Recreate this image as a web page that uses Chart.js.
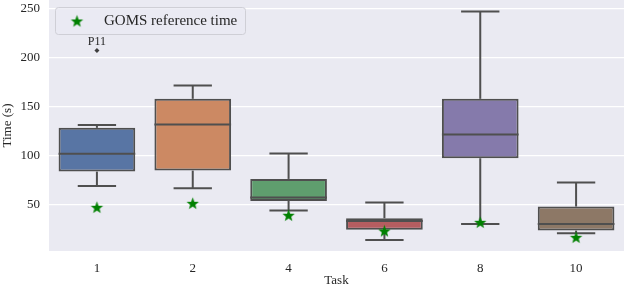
<!DOCTYPE html>
<html>
<head>
<meta charset="utf-8">
<script src="https://cdn.jsdelivr.net/npm/chart.js@4"></script>
<style>
  html, body { margin: 0; padding: 0; background: #fff; }
  #wrap { width: 624px; height: 288px; }
</style>
</head>
<body>
<div id="wrap"><canvas id="chartTime"></canvas></div>
<script>
const tasks = ["1", "2", "4", "6", "8", "10"];
const whiskLow = [69.4, 67, 44.2, 14.3, 30.6, 21.1];
const q1 = [84, 85, 54, 24.8, 97.6, 23.8];
const median = [102.3, 131.9, 57.6, 33.7, 121.8, 30.6];
const q3 = [128.6, 158.2, 76.5, 36.4, 158.2, 48.3];
const whiskHigh = [131.6, 171.7, 102.4, 52.4, 247.3, 72.8];
const goms = [47.6, 51.7, 39.5, 23.5, 32.3, 17];
const outliers = [207.5, null, null, null, null, null];
const outlierLabels = ["P11", null, null, null, null, null];
const yTicks = [50, 100, 150, 200, 250];

const boxColors = ["#5875a4", "#cc8963", "#5f9e6e", "#b55d60", "#857aab", "#8d7866"];
const edge = "#4f4f4f";
const serif = "'Liberation Serif', 'DejaVu Serif', serif";

// filled star used as point style
function makeStar(r, color) {
  const c = document.createElement("canvas");
  const s = Math.ceil(r * 2 + 2);
  c.width = s; c.height = s;
  const g = c.getContext("2d");
  g.fillStyle = color;
  g.beginPath();
  for (let i = 0; i < 10; i++) {
    const rad = i % 2 === 0 ? r : r * 0.42;
    const a = -Math.PI / 2 + i * Math.PI / 5;
    const x = s / 2 + rad * Math.cos(a), y = s / 2 + 0.6 + rad * Math.sin(a);
    i === 0 ? g.moveTo(x, y) : g.lineTo(x, y);
  }
  g.closePath();
  g.fill();
  return c;
}
const star = makeStar(6.5, "#008000");

const boxParts = {
  id: "boxParts",
  afterDatasetDraw(chart, args) {
    if (args.meta.type !== "bar") return;
    const ctx = chart.ctx, y = chart.scales.y;
    ctx.save();
    ctx.strokeStyle = edge;
    ctx.lineWidth = 2;
    args.meta.data.forEach((bar, i) => {
      const cx = bar.x, half = bar.width / 2, cap = bar.width / 4;
      const seg = (x1, y1, x2, y2) => { ctx.beginPath(); ctx.moveTo(x1, y1); ctx.lineTo(x2, y2); ctx.stroke(); };
      seg(cx, y.getPixelForValue(q3[i]), cx, y.getPixelForValue(whiskHigh[i]));
      seg(cx, y.getPixelForValue(q1[i]), cx, y.getPixelForValue(whiskLow[i]));
      seg(cx - cap, y.getPixelForValue(whiskHigh[i]), cx + cap, y.getPixelForValue(whiskHigh[i]));
      seg(cx - cap, y.getPixelForValue(whiskLow[i]), cx + cap, y.getPixelForValue(whiskLow[i]));
      seg(cx - half, y.getPixelForValue(median[i]), cx + half, y.getPixelForValue(median[i]));
    });
    ctx.restore();
  },
  afterDraw(chart) {
    const ctx = chart.ctx, x = chart.scales.x, y = chart.scales.y;
    ctx.save();
    ctx.fillStyle = "#262626";
    ctx.font = "12px " + serif;
    ctx.textAlign = "center";
    ctx.textBaseline = "bottom";
    outlierLabels.forEach((t, i) => {
      if (!t) return;
      ctx.fillText(t, x.getPixelForValue(i), y.getPixelForValue(outliers[i]) - 3);
    });
    // legend box
    const lx = 55.5, ly = 7.5, lw = 190, lh = 27;
    ctx.fillStyle = "rgba(234,234,242,0.8)";
    ctx.strokeStyle = "#cfcfd6";
    ctx.lineWidth = 1;
    ctx.beginPath();
    ctx.roundRect(lx, ly, lw, lh, 3);
    ctx.fill();
    ctx.stroke();
    ctx.drawImage(star, 77 - star.width / 2, 21 - star.height / 2);
    ctx.fillStyle = "#262626";
    ctx.font = "15px " + serif;
    ctx.textAlign = "left";
    ctx.textBaseline = "middle";
    ctx.fillText("GOMS reference time", 104, 21.5);
    ctx.restore();
  }
};

const plotBg = {
  id: "plotBg",
  beforeDraw(chart) {
    const a = chart.chartArea, ctx = chart.ctx;
    ctx.save();
    ctx.fillStyle = "#eaeaf2";
    ctx.fillRect(a.left, a.top, a.right - a.left, a.bottom - a.top);
    ctx.restore();
  }
};

new Chart(document.querySelector("#chartTime"), {
  data: {
    labels: tasks,
    datasets: [
      {
        type: "line",
        label: "GOMS reference time",
        data: goms,
        showLine: false,
        pointStyle: star,
        order: 0,
      },
      {
        type: "line",
        label: "outliers",
        data: outliers,
        showLine: false,
        pointStyle: "rectRot",
        pointRadius: 2.5,
        backgroundColor: "#3f3f3f",
        borderColor: "#3f3f3f",
        borderWidth: 0,
        order: 1,
      },
      {
        type: "bar",
        label: "Time",
        data: tasks.map((t, i) => [q1[i], q3[i]]),
        backgroundColor: boxColors,
        borderColor: edge,
        borderWidth: 2,
        borderSkipped: false,
        barPercentage: 0.8,
        categoryPercentage: 1,
        order: 2,
      },
    ],
  },
  options: {
    responsive: true,
    maintainAspectRatio: false,
    animation: false,
    layout: { padding: 0, autoPadding: false },
    plugins: {
      legend: { display: false },
      tooltip: { enabled: false },
    },
    scales: {
      x: {
        grid: { display: false, drawTicks: false },
        border: { display: false },
        ticks: { color: "#262626", font: { family: serif, size: 13 }, padding: 10 },
        title: { display: true, text: "Task", color: "#262626", font: { family: serif, size: 13 }, padding: { top: 2, bottom: 0 } },
        afterFit(s) { s.height = 37; s.paddingLeft = 0; s.paddingRight = 0; },
      },
      y: {
        min: 3,
        max: 259,
        afterBuildTicks(s) { s.ticks = yTicks.map(v => ({ value: v })); },
        grid: { color: "#ffffff", lineWidth: 1.3, drawTicks: false },
        border: { display: false },
        ticks: { color: "#262626", font: { family: serif, size: 13 }, padding: 9 },
        title: { display: true, text: "Time (s)", color: "#262626", font: { family: serif, size: 13 }, padding: { top: 0, bottom: 0 } },
        afterFit(s) { s.width = 49; s.paddingTop = 0; s.paddingBottom = 0; },
      },
    },
  },
  plugins: [plotBg, boxParts],
});
</script>
</body>
</html>
